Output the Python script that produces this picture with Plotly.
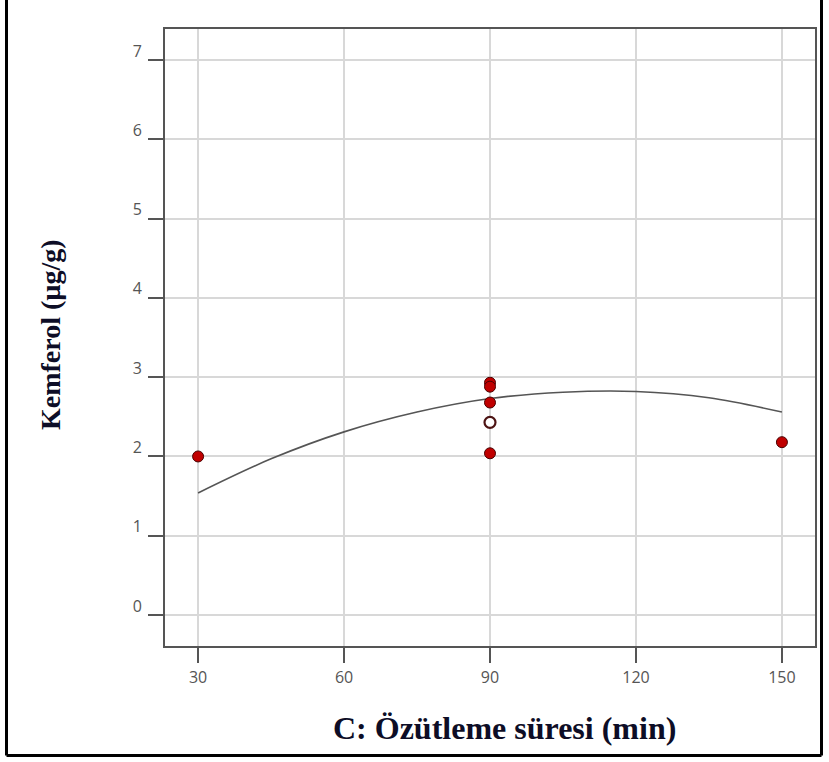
import plotly.graph_objects as go

# Observed kaempferol content against extraction time
time_min = [30, 90, 90, 90, 90, 150]
kemferol = [2.00, 2.93, 2.88, 2.68, 2.04, 2.18]

# Centre point
center_time = [90]
center_value = [2.43]

# Model prediction line
curve_time = [30, 45, 60, 75, 90, 105, 120, 135, 150]
curve_pred = [1.54, 1.97, 2.31, 2.56, 2.73, 2.81, 2.82, 2.74, 2.56]

x_ticks = [30, 60, 90, 120, 150]
y_ticks = [0, 1, 2, 3, 4, 5, 6, 7]

W, H = 829, 762
L, R, T, B = 165, 14, 29, 116
pw, ph = W - L - R, H - T - B


def px_x(x):
    return (x - L) / pw


def px_y(y):
    return (H - B - y) / ph


fig = go.Figure()

fig.add_trace(go.Scatter(
    x=curve_time, y=curve_pred, mode="lines",
    line=dict(color="#555555", width=1.6, shape="spline"),
    hoverinfo="skip", showlegend=False,
))

fig.add_trace(go.Scatter(
    x=time_min, y=kemferol, mode="markers",
    marker=dict(size=11, color="#c00000", line=dict(color="#4a0000", width=1)),
    showlegend=False,
))

fig.add_trace(go.Scatter(
    x=center_time, y=center_value, mode="markers",
    marker=dict(size=11, color="white", line=dict(color="#4d1414", width=2.2)),
    showlegend=False,
))

axis_common = dict(
    showline=True, mirror=True, linecolor="#555555", linewidth=2,
    showgrid=True, gridcolor="#d8d8d8", gridwidth=1.5,
    ticks="outside", ticklen=15, tickwidth=2, tickcolor="#555555",
    zeroline=False,
    tickfont=dict(family="Open Sans", size=16, color="#555555"),
)

fig.update_xaxes(range=[23.2, 156.8], tickvals=x_ticks, ticklabelstandoff=1, **axis_common)
fig.update_yaxes(range=[-0.39, 7.39], tickvals=y_ticks, ticklabelshift=-9,
                 ticklabelstandoff=3, **axis_common)

title_font = dict(family="Liberation Serif", color="#0d0d26")

fig.add_annotation(
    text="<b>Kemferol (µg/g)</b>", textangle=-90,
    xref="paper", yref="paper", x=px_x(50), y=px_y(335),
    xanchor="center", yanchor="middle", showarrow=False,
    font=dict(size=28, **title_font),
)
fig.add_annotation(
    text="<b>C: Özütleme süresi (min)</b>",
    xref="paper", yref="paper", x=px_x(504), y=px_y(728),
    xanchor="center", yanchor="middle", showarrow=False,
    font=dict(size=32, **title_font),
)

# Outer frame around the figure
frame = dict(type="line", xref="paper", yref="paper", line=dict(color="black", width=3))
fig.add_shape(x0=px_x(6.5), x1=px_x(6.5), y0=px_y(-5), y1=px_y(755.5), **frame)
fig.add_shape(x0=px_x(821.5), x1=px_x(821.5), y0=px_y(-5), y1=px_y(755.5), **frame)
fig.add_shape(x0=px_x(6.5), x1=px_x(821.5), y0=px_y(755.5), y1=px_y(755.5), **frame)

fig.update_layout(
    width=W, height=H,
    margin=dict(l=L, r=R, t=T, b=B),
    paper_bgcolor="white", plot_bgcolor="white",
)

fig.write_html("out.html")
